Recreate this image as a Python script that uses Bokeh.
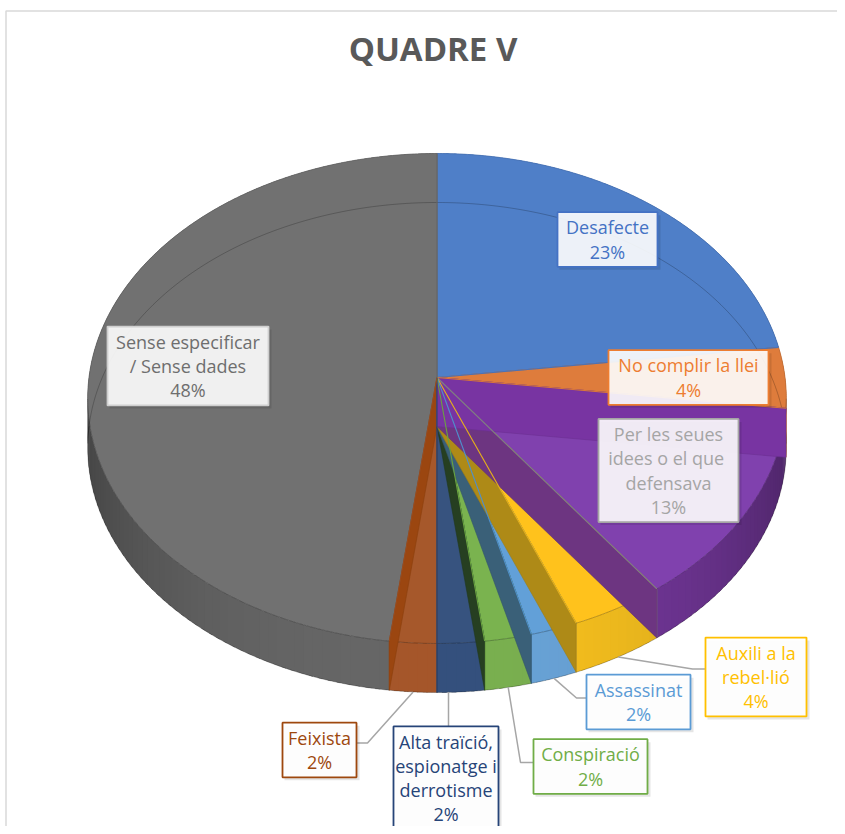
import math
import numpy as np
from bokeh.plotting import figure
from bokeh.models import Range1d, ColumnDataSource
from bokeh.core.properties import value
from bokeh.embed import file_html
from bokeh.resources import INLINE

# ---------------- data ----------------
TITLE = "QUADRE V"
CATEGORIES = [
    "Desafecte",
    "No complir la llei",
    "Per les seues\nidees  o el que\ndefensava",
    "Auxili a la\nrebel·lió",
    "Assassinat",
    "Conspiració",
    "Alta traïció,\nespionatge i\nderrotisme",
    "Feixista",
    "Sense especificar\n/ Sense dades",
]
VALUES = [23, 4, 13, 4, 2, 2, 2, 2, 48]

# ---------------- styles ----------------
TOP_COLORS = ["#4F7FC8", "#DE7C3C", "#8041AE", "#FFC21C", "#62A0D8",
              "#7AB34F", "#37537F", "#A6582B", "#717171"]
SIDE_COLORS = ["#4F7FC8", "#E8873F", "#73379A", "#F4BE1E", "#68A2D6",
               "#79AF4F", "#34507D", "#A5562A", "#666666"]
FACE_STYLES = [(None, 0.0), ("#7834A2", 1.0), ("#6D3581", 1.0), ("#AE8A17", 1.0),
               ("#3A6078", 1.0), ("#263F21", 1.0), ("#2E4670", 1.0),
               ("#9B4610", 1.0), (None, 0.0)]
EDGE_COLORS = ["#4A72B8", "#D9773A", "#808080", "#E6B01A", "#4F8FCB",
               "#6AA43E", "#2E4670", "#9B4C1E", "#6A6A6A"]
LABEL_COLORS = ["#4472C4", "#ED7D31", "#A5A5A5", "#FFC000", "#5B9BD5",
                "#70AD47", "#264478", "#9E480E", "#6E6E6E"]
BORDER_COLORS = ["#4472C4", "#ED7D31", "#A5A5A5", "#FFC000", "#5B9BD5",
                 "#70AD47", "#264478", "#9E480E", "#CFCFCF"]
# label box layout: centre x, centre y, width (page pixels)
LABEL_BOXES = [(607, 239, 100), (688, 377, 160), (668, 470, 140),
               (755.5, 676.5, 101), (638, 701.5, 104), (590, 766, 114),
               (445.5, 777.5, 105), (319, 749.5, 74), (187.5, 365.5, 161)]
# leader layout: index -> (side, offset, elbow)
LEADERS = {3: ("left", -8, 13), 4: ("left", -4, 10), 5: ("left", -4, 13),
           6: ("top", 2.5, 0), 7: ("right", -7, 11)}

FONT = "Open Sans"
FS = 18
LS = 24.3

W, H = 837, 826

# pie projection parameters
CX, CY = 436.5, 377.0
RX, RZ, PERSP, DEPTH = 348.0, 243.2, 0.0857, 49.0


def proj(theta, r=1.0, drop=0.0):
    t = math.radians(theta)
    X, Z = r * math.sin(t), r * math.cos(t)
    w = 1 + PERSP * Z
    return CX + RX * X / w, CY - RZ * Z / w + drop


def arc(a, b, drop=0.0, step=0.5):
    n = max(2, int(math.ceil(abs(b - a) / step)) + 1)
    pts = [proj(t, 1.0, drop) for t in np.linspace(a, b, n)]
    return [q[0] for q in pts], [q[1] for q in pts]


def blend(c1, c2, t):
    a = [int(c1[i:i + 2], 16) for i in (1, 3, 5)]
    b = [int(c2[i:i + 2], 16) for i in (1, 3, 5)]
    m = [round(a[k] * (1 - t) + b[k] * t) for k in range(3)]
    return "#%02X%02X%02X" % tuple(m)


total = float(sum(VALUES))
bounds = np.concatenate([[0.0], np.cumsum(VALUES)]) * 360.0 / total
starts, ends = bounds[:-1], bounds[1:]
mids = (starts + ends) / 2
PCTS = ["%d%%" % round(v * 100.0 / total) for v in VALUES]

p = figure(width=W, height=H, x_range=Range1d(0, W), y_range=Range1d(H, 0),
           output_backend="svg", toolbar_location=None, min_border=0,
           x_axis_location=None, y_axis_location=None,
           background_fill_color="white", border_fill_color="white")
p.outline_line_color = None
p.grid.visible = False

# chart frame
p.line([5.5, 5.5, W], [H, 10.5, 10.5], line_color="#D9D9D9", line_width=1.5)

# ---- sides (overlapping segments with shading) ----
sx, sy, sc = [], [], []
for i, (a, b) in enumerate(zip(starts, ends)):
    n = max(1, int(math.ceil((b - a) / 1.5)))
    edges = np.linspace(a, b, n + 1)
    for t0, t1 in zip(edges[:-1], edges[1:]):
        t1e = min(t1 + 0.7, b)
        tx, ty = arc(t0, t1e, 0.0, 0.25)
        bx, by = arc(t1e, t0, DEPTH, 0.25)
        sx.append(tx + bx)
        sy.append(ty + by)
        tm = (t0 + t1) / 2
        shade = 0.32 * abs(math.sin(math.radians(tm))) ** 3
        sc.append(blend(SIDE_COLORS[i], "#000000", shade))
p.patches(xs="xs", ys="ys", fill_color="c", line_color=None,
          source=ColumnDataSource(dict(xs=sx, ys=sy, c=sc)))

# slice separators on the side
for i in range(len(VALUES)):
    e = ends[i]
    if 90 <= e <= 270:
        rx0, ry0 = proj(e, 1.0, 0.0)
        rx1, ry1 = proj(e, 1.0, DEPTH)
        p.line([rx0, rx1], [ry0, ry1], line_color=EDGE_COLORS[i], line_width=1.0)

# outer outline of the side (bottom rim)
bx, by = arc(90, 270, DEPTH)
p.line(bx, by, line_color="#000000", line_alpha=0.25, line_width=1)

# ---- top faces ----
txs, tys, tcs, tls = [], [], [], []
for i, (a, b) in enumerate(zip(starts, ends)):
    ax, ay = arc(a, b, 0.0)
    txs.append([CX] + ax)
    tys.append([CY] + ay)
    tcs.append(TOP_COLORS[i])
    tls.append(blend(TOP_COLORS[i], "#000000", 0.12))
p.patches(xs="xs", ys="ys", fill_color="c", line_color="l", line_width=0.8,
          source=ColumnDataSource(dict(xs=txs, ys=tys, c=tcs, l=tls)))

# bottom rim seen through the translucent top (back part)
bx, by = arc(266, 454, DEPTH)
p.line(bx, by, line_color="#000000", line_alpha=0.22, line_width=1)

# front top rim line
fx, fy = arc(95, 265, 0.0)
p.line(fx, fy, line_color="#000000", line_alpha=0.18, line_width=1)

# ---- radial end faces (nearest first, farther on top) ----
for i in reversed(range(len(VALUES))):
    col, alpha = FACE_STYLES[i]
    if col is None:
        continue
    e = ends[i]
    rx0, ry0 = proj(e, 1.0, 0.0)
    rx1, ry1 = proj(e, 1.0, DEPTH)
    p.patch([CX, rx0, rx1, CX], [CY, ry0, ry1, CY + DEPTH], fill_color=col,
            fill_alpha=alpha, line_color=blend(col, "#000000", 0.1), line_width=0.6)

# radial top edges (visible through faces)
for i in range(len(VALUES)):
    e = ends[i]
    rx0, ry0 = proj(e, 1.0, 0.0)
    p.line([CX, rx0], [CY, ry0], line_color=EDGE_COLORS[i], line_width=1.1)

# ---- leader lines ----
for i, (side, off, elbow) in LEADERS.items():
    cx, cy, bw = LABEL_BOXES[i]
    nlines = len(CATEGORIES[i].split("\n")) + 1
    bh = nlines * LS + 6
    tx, ty = proj(mids[i], 1.0, DEPTH)
    if side == "left":
        ax, ay = cx - bw / 2, cy + off
        xs, ys = [ax, ax - elbow, tx], [ay, ay, ty]
    elif side == "right":
        ax, ay = cx + bw / 2, cy + off
        xs, ys = [ax, ax + elbow, tx], [ay, ay, ty]
    else:
        ax, ay = cx + off, cy - bh / 2
        xs, ys = [ax, ax], [ay, ty]
    p.line(xs, ys, line_color="#A6A6A6", line_width=1.5)

# ---- labels ----
for i in range(len(VALUES)):
    cx, cy, bw = LABEL_BOXES[i]
    lines = CATEGORIES[i].split("\n") + [PCTS[i]]
    n = len(lines)
    bh = n * LS + 6
    l, r, t, b = cx - bw / 2, cx + bw / 2, cy - bh / 2, cy + bh / 2
    p.quad(left=l + 2, right=r + 3, top=t + 3, bottom=b + 3, fill_color="#000000",
           fill_alpha=0.10, line_color=None)
    p.quad(left=l, right=r, top=t, bottom=b, fill_color="#FFFFFF", fill_alpha=0.9,
           line_color=BORDER_COLORS[i], line_width=1.8)
    ys = [cy - (n - 1) * LS / 2 + k * LS for k in range(n)]
    p.text(x=[cx] * n, y=ys, text=lines, text_font=value(FONT),
           text_font_size="%dpx" % FS, text_color=LABEL_COLORS[i],
           text_align="center", text_baseline="middle")

# ---- title ----
p.text(x=[432.5], y=[47.5], text=[TITLE], text_font=value(FONT), text_font_size="33px",
       text_font_style="bold", text_color="#595959", text_align="center",
       text_baseline="middle")

open("out.html", "w").write(file_html(p, INLINE))
